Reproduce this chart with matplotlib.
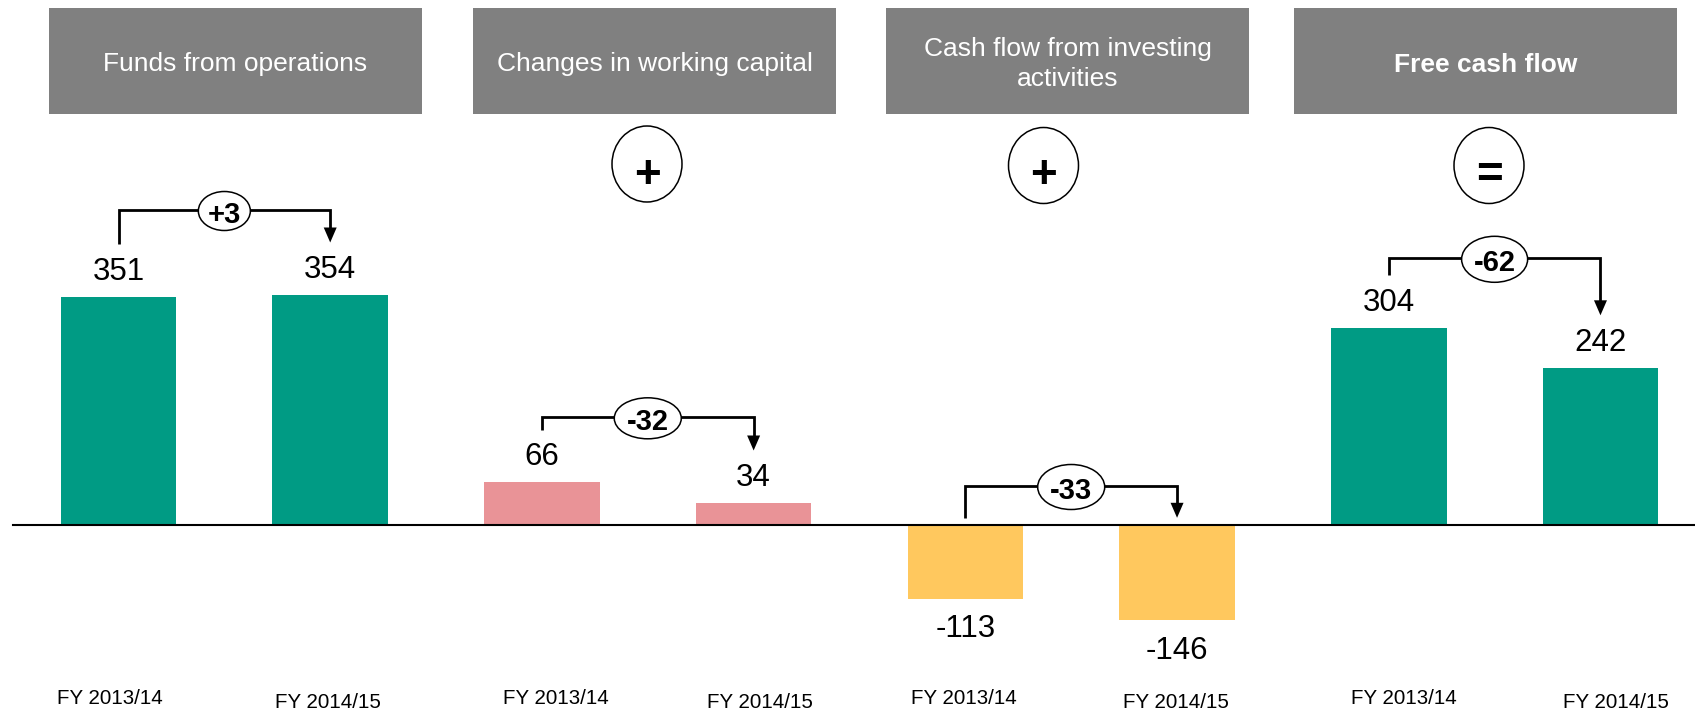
import matplotlib
matplotlib.use("Agg")
import matplotlib.pyplot as plt
from matplotlib.patches import Rectangle, Ellipse

plt.rcParams['font.family'] = ['Liberation Sans', 'DejaVu Sans']

# ---------------- data ----------------
sections = ["Funds from operations", "Changes in working capital",
            "Cash flow from investing\nactivities", "Free cash flow"]
operators = ["+", "+", "="]
periods = ["FY 2013/14", "FY 2014/15"]
fy1314 = [351, 66, -113, 304]
fy1415 = [354, 34, -146, 242]
changes = ["+3", "-32", "-33", "-62"]
section_colors = ["#009B84", "#E99397", "#FFC85E", "#009B84"]

# ---------------- layout (pixel space of the 1695x711 canvas) ----------------
W, H = 1695, 711
X0, DX = 118.5, 211.71      # centre of first bar, bar pitch (px)
Y0, KY = 525.3, 0.65        # baseline px, px per unit

def X(px):
    return (px - X0) / DX

def Y(py):
    return (Y0 - py) / KY

header_boxes = [(49, 422), (473, 836), (886, 1249), (1294, 1677)]
header_top, header_bot = 8, 114
bracket_px = [210, 417.3, 486, 258.3]
change_w = [52, 67, 67, 66]
change_h = [39, 41, 45, 46]
op_centers = [(647, 164), (1043.5, 165.5), (1489, 165.5)]
label_dx = [-9, -2, 14, 6, -1.5, -1.5, 15, 15]
label_base = [704, 708]

fig = plt.figure(figsize=(W / 100, H / 100), dpi=100)
ax = fig.add_axes([0, 0, 1, 1])
ax.set_xlim(X(0), X(W))
ax.set_ylim(Y(H), Y(0))
ax.axis('off')

# bars
values, colors = [], []
for a, b, c in zip(fy1314, fy1415, section_colors):
    values += [a, b]
    colors += [c, c]
pos = list(range(len(values)))
ax.bar(pos, values, width=0.5456, color=colors, zorder=2)

# baseline
ax.plot([X(13), X(W)], [0, 0], color='black', lw=1.5, zorder=3)

# value labels
for i, v in zip(pos, values):
    y = v + 17 / KY if v >= 0 else v - 38.5 / KY
    ax.text(i, y, f"{v}", ha='center', va='baseline', fontsize=22.5, color='black', zorder=6)

# period labels
for i in pos:
    ax.text(i + label_dx[i] / DX, Y(label_base[i % 2]), periods[i % 2],
            ha='center', va='baseline', fontsize=14.8, color='black')

# change brackets
def leg_end(v):
    return v + 52.7 / KY if v > 0 else 7.5 / KY

for g in range(4):
    i0, i1 = 2 * g, 2 * g + 1
    v0, v1 = fy1314[g], fy1415[g]
    by = Y(bracket_px[g])
    tip = leg_end(v1)
    head_l = 15 / KY
    head_w = 6.5 / DX
    ax.plot([i0, i0, i1, i1], [leg_end(v0), by, by, tip + head_l * 0.5],
            color='black', lw=2, solid_joinstyle='miter', solid_capstyle='butt', zorder=4)
    ax.fill([i1 - head_w, i1 + head_w, i1], [tip + head_l, tip + head_l, tip],
            color='black', lw=0, zorder=4)
    cx = (i0 + i1) / 2
    cy_px = bracket_px[g] + 1
    ax.add_patch(Ellipse((cx, Y(cy_px)), change_w[g] / DX, change_h[g] / KY,
                         facecolor='white', edgecolor='black', lw=1.1, zorder=5))
    ax.text(cx, Y(cy_px + 12), changes[g], ha='center', va='baseline',
            fontsize=21, fontweight='bold', color='black', zorder=6)

# header boxes
for (l, r), title, idx in zip(header_boxes, sections, range(4)):
    ax.add_patch(Rectangle((X(l), Y(header_bot)), X(r) - X(l), Y(header_top) - Y(header_bot),
                           facecolor='#808080', edgecolor='none', zorder=1))
    cx = X((l + r) / 2)
    if "\n" in title:
        ax.text(cx, Y(64), title, ha='center', va='center', fontsize=19,
                color='white', linespacing=1.3)
    else:
        ax.text(cx, Y(71.5), title, ha='center', va='baseline', fontsize=19,
                color='white', fontweight='bold' if idx == 3 else 'normal')

# operator circles
for (px, py), op in zip(op_centers, operators):
    ax.add_patch(Ellipse((X(px), Y(py)), 70 / DX, 76 / KY,
                         facecolor='white', edgecolor='black', lw=1.1, zorder=5))
    ax.text(X(px), Y(188), op, ha='center', va='baseline', fontsize=33,
            fontweight='bold', color='black', zorder=6)

fig.savefig('out.png', dpi=100)
